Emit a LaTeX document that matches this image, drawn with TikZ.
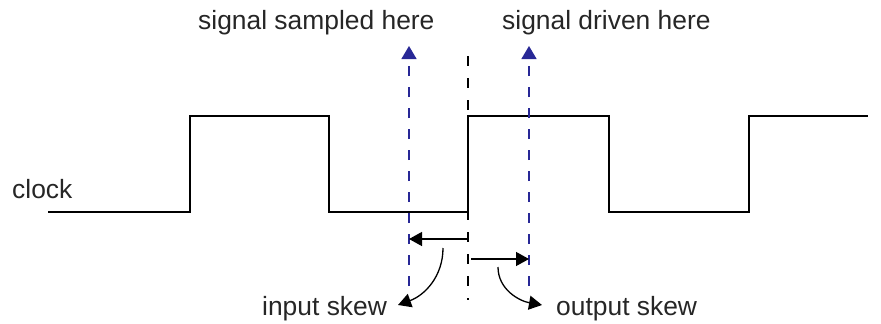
\documentclass[tikz,border=0pt]{standalone}
\usepackage{fontspec}
\setmainfont{Liberation Sans}
\usepackage{xcolor}
\usetikzlibrary{arrows.meta}
\definecolor{guideblue}{RGB}{40,40,150}

\begin{document}
\begin{tikzpicture}[x=1pt,y=1pt,
  every node/.style={inner sep=0pt,font=\fontsize{26.4}{30}\selectfont,text=black!85},
  clockline/.style={line width=2.6pt,line join=miter},
  guide/.style={guideblue,line width=1.3pt,dash pattern=on 10pt off 11pt,-{Triangle[length=13pt,width=15pt]}},
  edgemark/.style={black,line width=1.3pt,dash pattern=on 10pt off 12pt},
  skew/.style={black,line width=1.3pt,-{Triangle[length=13pt,width=14pt]}}]
\useasboundingbox (0,-324) rectangle (881,0);
% labels
\node[anchor=base west] (clk) at (12,-198) {clock};
\node[anchor=base west] (sampled) at (198,-29) {signal sampled here};
\node[anchor=base west] (driven) at (502,-29) {signal driven here};
\node[anchor=base west] (inskew) at (262,-315) {input skew};
\node[anchor=base west] (outskew) at (556,-315) {output skew};
% clock waveform
\draw[clockline] (48,-212) -- (190,-212) -- (190,-116) -- (329,-116) -- (329,-212)
  -- (468,-212) -- (468,-116) -- (609,-116) -- (609,-212) -- (749,-212) -- (749,-116) -- (868,-116);
% guide lines
\coordinate (edgetop) at (468,-56);
\coordinate (edgebot) at (468,-300);
\draw[edgemark] (edgetop) -- (edgebot);
\coordinate (samplebot) at (409,-286);
\coordinate (sampletop) at (409,-46);
\coordinate (drivebot) at (529,-286);
\coordinate (drivetop) at (529,-46);
\draw[guide] (samplebot) -- (sampletop);
\draw[guide] (drivebot) -- (drivetop);
% skew arrows
\coordinate (inA) at (468,-239);
\coordinate (inB) at (409,-239);
\coordinate (outA) at (471,-259);
\coordinate (outB) at (529,-259);
\draw[skew] (inA) -- (inB);
\draw[skew] (outA) -- (outB);
\coordinate (inC) at (443,-248);
\coordinate (inD) at (398,-305);
\coordinate (outC) at (498,-267);
\coordinate (outD) at (542,-305);
\draw[skew] (inC) to[out=-90,in=20] (inD);
\draw[skew] (outC) to[out=-90,in=170] (outD);
\end{tikzpicture}
\end{document}
